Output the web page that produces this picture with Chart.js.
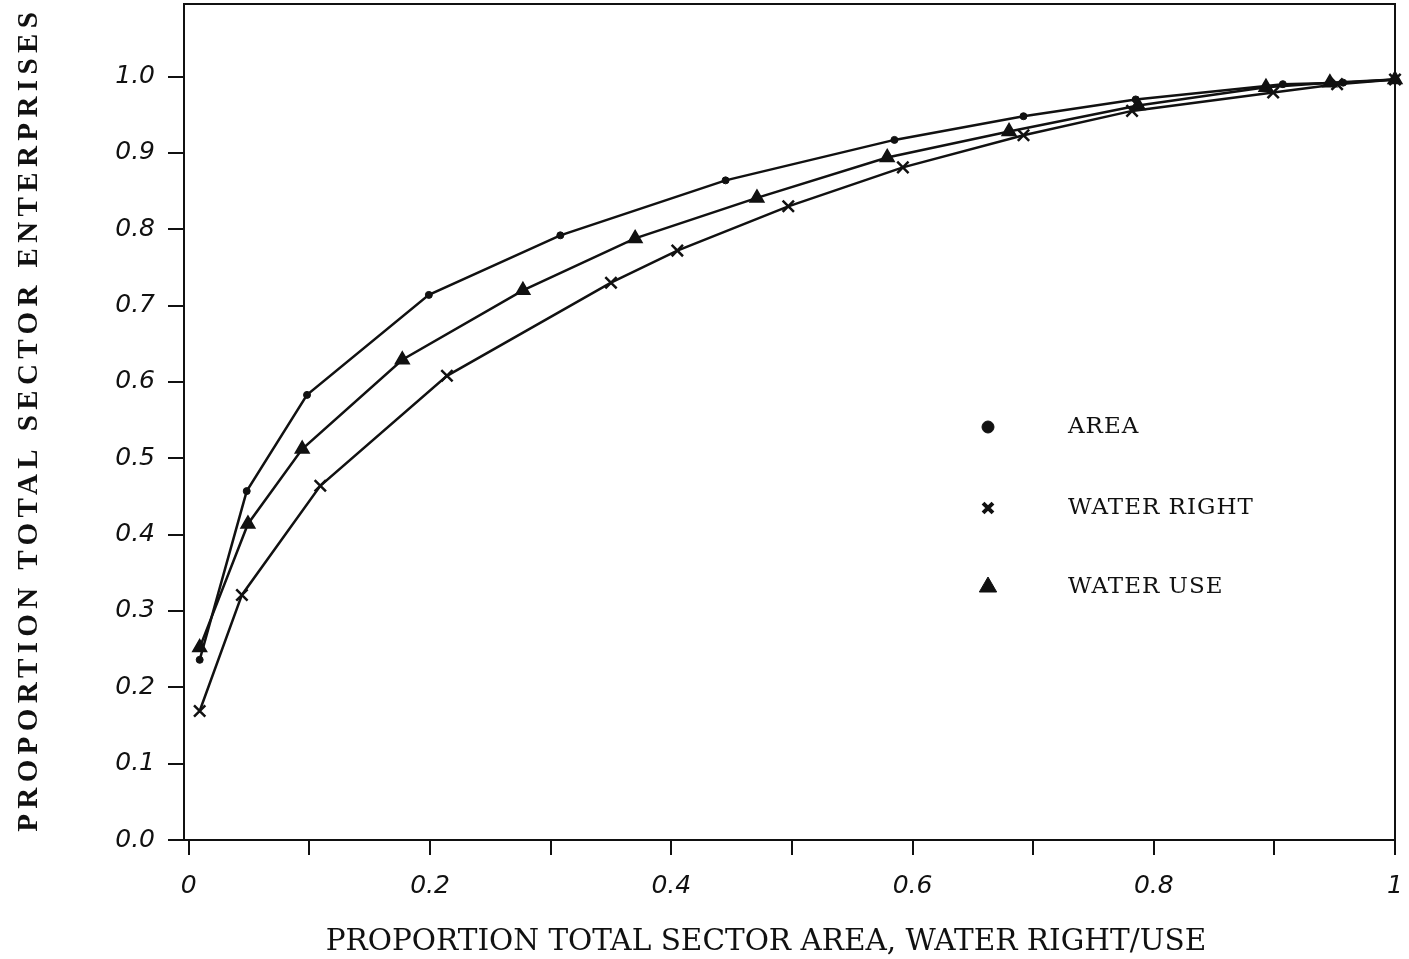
<!DOCTYPE html>
<html>
<head>
<meta charset="utf-8">
<script src="https://cdn.jsdelivr.net/npm/chart.js@4.4.1/dist/chart.umd.min.js"></script>
<style>
  html, body { margin: 0; padding: 0; background: #fff; }
</style>
</head>
<body>
<canvas id="chart" width="1409" height="959"></canvas>
<script>
const areaX = [0.009, 0.048, 0.098, 0.199, 0.308, 0.445, 0.585, 0.692, 0.785, 0.907, 0.957, 1.0]
const areaY = [0.236, 0.457, 0.583, 0.714, 0.792, 0.864, 0.917, 0.948, 0.970, 0.990, 0.992, 0.996]

const waterRightX = [0.009, 0.044, 0.109, 0.214, 0.350, 0.405, 0.497, 0.592, 0.692, 0.782, 0.899, 0.952, 1.0]
const waterRightY = [0.169, 0.321, 0.464, 0.608, 0.730, 0.772, 0.830, 0.881, 0.923, 0.955, 0.979, 0.990, 0.996]

const waterUseX = [0.009, 0.049, 0.094, 0.177, 0.277, 0.370, 0.471, 0.579, 0.680, 0.787, 0.893, 0.946, 1.0]
const waterUseY = [0.252, 0.414, 0.512, 0.629, 0.720, 0.788, 0.841, 0.894, 0.928, 0.962, 0.986, 0.992, 0.996]

const seriesNames = ['AREA', 'WATER RIGHT', 'WATER USE']
const xTickLabels = ['0', '', '0.2', '', '0.4', '', '0.6', '', '0.8', '', '1']
const yTickLabels = ['0.0', '0.1', '0.2', '0.3', '0.4', '0.5', '0.6', '0.7', '0.8', '0.9', '1.0']
const xTitle = 'PROPORTION TOTAL SECTOR AREA, WATER RIGHT/USE'
const yTitle = 'PROPORTION TOTAL SECTOR ENTERPRISES'

const ink = '#111'

const toPoints = (xs, ys) => xs.map((x, i) => ({ x: x, y: ys[i] }))

// box round the plot area (top and right sides)
const frame = {
  id: 'frame',
  afterDraw(chart) {
    const { ctx, chartArea: a } = chart
    ctx.save()
    ctx.strokeStyle = ink
    ctx.lineWidth = 2
    ctx.strokeRect(a.left, a.top, a.right - a.left, a.bottom - a.top)
    ctx.restore()
  }
}

// axis titles: the side one is spaced out like the typed original,
// the bottom one sits a little left of the plot centre
const axisTitles = {
  id: 'axisTitles',
  afterDraw(chart) {
    const { ctx } = chart
    ctx.save()
    ctx.fillStyle = ink
    ctx.textAlign = 'center'
    ctx.textBaseline = 'middle'

    ctx.font = '29.5px "DejaVu Serif"'
    ctx.fillText(xTitle, 766, 942)

    ctx.font = 'bold 29px "Liberation Serif"'
    const plain = ctx.measureText(yTitle).width
    const spacing = (825 - plain) / yTitle.length
    ctx.letterSpacing = spacing + 'px'
    ctx.translate(30, 422)
    ctx.rotate(-Math.PI / 2)
    ctx.fillText(yTitle, spacing / 2, 0)
    ctx.restore()
  }
}

// legend sits inside the plot, markers left of the names
const keyBox = {
  id: 'keyBox',
  afterDraw(chart) {
    const { ctx } = chart
    const rows = [427, 508, 587]
    const marks = [
      { pointStyle: 'circle', radius: 6, borderWidth: 1, lw: 1 },
      { pointStyle: 'crossRot', radius: 7, borderWidth: 4, lw: 4 },
      { pointStyle: 'triangle', radius: 10, borderWidth: 1, lw: 1 }
    ]
    ctx.save()
    chart.data.datasets.forEach((ds, i) => {
      ctx.fillStyle = ink
      ctx.strokeStyle = ink
      ctx.lineWidth = marks[i].lw
      ctx.letterSpacing = '0px'
      Chart.helpers.drawPoint(ctx, Object.assign({ rotation: 0 }, marks[i]), 988, rows[i])
      ctx.font = '23px "DejaVu Serif"'
      ctx.letterSpacing = '1px'
      ctx.textBaseline = 'middle'
      ctx.textAlign = 'left'
      ctx.fillText(ds.label, 1068, rows[i])
    })
    ctx.restore()
  }
}

const lineBase = {
  borderColor: ink,
  backgroundColor: ink,
  pointBorderColor: ink,
  pointBackgroundColor: ink,
  borderWidth: 2.5,
  tension: 0,
  fill: false,
  clip: false
}

const chart = new Chart(document.getElementById('chart').getContext('2d'), {
  type: 'line',
  data: {
    datasets: [
      Object.assign({}, lineBase, {
        label: seriesNames[0],
        data: toPoints(areaX, areaY),
        pointStyle: 'circle',
        pointRadius: 3.5,
        pointBorderWidth: 1
      }),
      Object.assign({}, lineBase, {
        label: seriesNames[1],
        data: toPoints(waterRightX, waterRightY),
        pointStyle: 'crossRot',
        pointRadius: 8,
        pointBorderWidth: 2.5
      }),
      Object.assign({}, lineBase, {
        label: seriesNames[2],
        data: toPoints(waterUseX, waterUseY),
        pointStyle: 'triangle',
        pointRadius: 8,
        pointBorderWidth: 1.5
      })
    ]
  },
  options: {
    responsive: false,
    animation: false,
    layout: { autoPadding: false, padding: { top: 4, right: 14, left: 0, bottom: 0 } },
    scales: {
      x: {
        type: 'linear',
        min: -0.004,
        max: 1,
        border: { display: true, color: ink, width: 2 },
        grid: { drawOnChartArea: false, drawTicks: true, tickLength: 15, color: ink, lineWidth: 2 },
        ticks: {
          stepSize: 0.1,
          includeBounds: false,
          autoSkip: false,
          maxRotation: 0,
          padding: 16,
          color: ink,
          font: { family: 'DejaVu Sans', style: 'italic', size: 25 },
          callback: (v) => xTickLabels[Math.round(v * 10)]
        },
        afterFit: (s) => {
          s.height = 119
          s.paddingLeft = 0
          s.paddingRight = 0
        }
      },
      y: {
        min: 0,
        max: 1.095,
        border: { display: true, color: ink, width: 2 },
        grid: { drawOnChartArea: false, drawTicks: true, tickLength: 16, color: ink, lineWidth: 2 },
        ticks: {
          stepSize: 0.1,
          includeBounds: false,
          padding: 13,
          color: ink,
          font: { family: 'DejaVu Sans', style: 'italic', size: 25 },
          callback: (v) => yTickLabels[Math.round(v * 10)]
        },
        afterFit: (s) => {
          s.width = 184
          s.paddingTop = 0
          s.paddingBottom = 0
        }
      }
    },
    plugins: {
      legend: { display: false },
      tooltip: { enabled: false }
    }
  },
  plugins: [frame, axisTitles, keyBox]
})
</script>
</body>
</html>
